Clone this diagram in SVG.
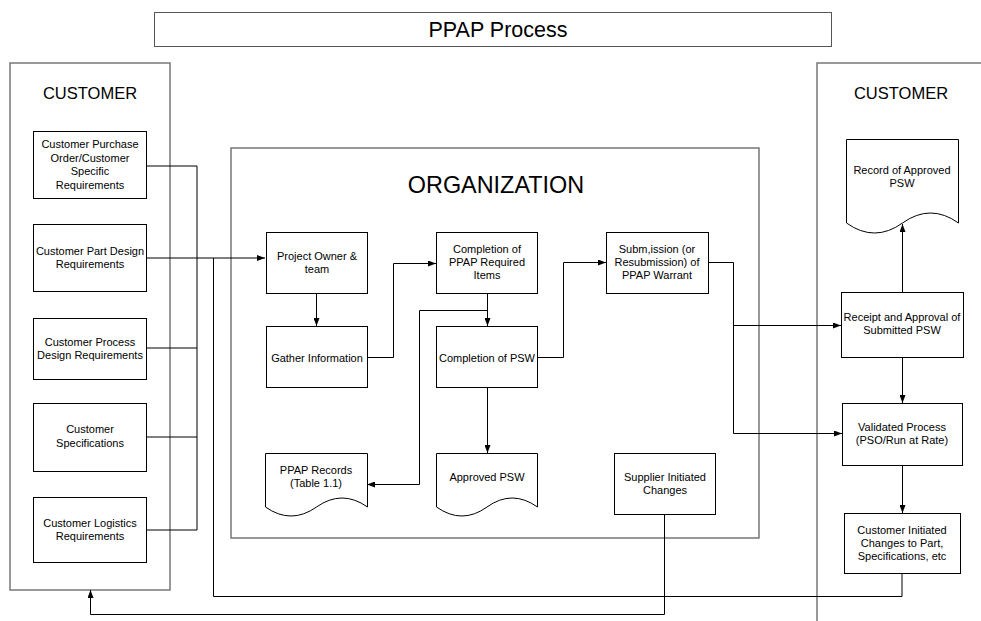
<svg xmlns="http://www.w3.org/2000/svg" width="981" height="621" viewBox="0 0 981 621">
<style>
text{font-family:"Liberation Sans",Arial,sans-serif;fill:#000;text-anchor:middle}
.s{font-size:11px}
.big{font-size:16.5px}
.node{fill:#fff;stroke:#000;stroke-width:1}
.frame{fill:none;stroke:#777;stroke-width:1.5}
.c{fill:none;stroke:#000;stroke-width:1}
</style>
<defs>
<marker id="a" viewBox="0 0 8 6" refX="8" refY="3" markerWidth="8" markerHeight="6" markerUnits="userSpaceOnUse" orient="auto">
<path d="M0,0 L8,3 L0,6 Z" fill="#000"/>
</marker>
</defs>
<rect width="981" height="621" fill="#fff"/>
<g id="title">
<rect x="154.5" y="12.5" width="677" height="34" fill="#fff" stroke="#555" stroke-width="1"/>
<text x="498" y="37" style="font-size:21.5px">PPAP Process</text>
</g>
<g id="customer-left">
<rect class="frame" x="10" y="63" width="160" height="527"/>
<text class="big" x="90" y="99">CUSTOMER</text>
</g>
<g id="customer-right">
<path class="frame" d="M817,621 V63 H990"/>
<text class="big" x="901" y="99">CUSTOMER</text>
</g>
<g id="organization">
<rect class="frame" x="231" y="148" width="528" height="390"/>
<text x="496" y="193" style="font-size:23.4px">ORGANIZATION</text>
</g>
<g id="connectors">
<path class="c" d="M147,166 H197 V530"/>
<path class="c" d="M147,348 H197"/>
<path class="c" d="M147,437 H197"/>
<path class="c" d="M147,530 H197"/>
<path class="c" d="M147,258 H265" marker-end="url(#a)"/>
<path class="c" d="M902,573 V596.5 H213.5 V258"/>
<path class="c" d="M664.5,514 V614.5 H90.5 V590" marker-end="url(#a)"/>
<path class="c" d="M316.5,293 V326" marker-end="url(#a)"/>
<path class="c" d="M367,357.5 H393.5 V263.5 H436" marker-end="url(#a)"/>
<path class="c" d="M487.5,293 V326" marker-end="url(#a)"/>
<path class="c" d="M487.5,310.5 H419.5 V484.5 H367" marker-end="url(#a)"/>
<path class="c" d="M487.5,387 V453" marker-end="url(#a)"/>
<path class="c" d="M537,357.5 H563.5 V262.5 H606" marker-end="url(#a)"/>
<path class="c" d="M708,262.5 H733.5 V433.5 H842" marker-end="url(#a)"/>
<path class="c" d="M733.5,325.5 H841" marker-end="url(#a)"/>
<path class="c" d="M902.5,292 V224" marker-end="url(#a)"/>
<path class="c" d="M902.5,357 V403" marker-end="url(#a)"/>
<path class="c" d="M902.5,465 V513" marker-end="url(#a)"/>
</g>
<g id="n-purchase">
<rect class="node" x="33.5" y="131.5" width="113" height="67"/>
<text class="s" x="90" y="148">Customer Purchase</text>
<text class="s" x="90" y="161.5">Order/Customer</text>
<text class="s" x="90" y="175">Specific</text>
<text class="s" x="90" y="188.5">Requirements</text>
</g>
<g id="n-partdesign">
<rect class="node" x="33.5" y="224.5" width="113" height="67"/>
<text class="s" x="90" y="255">Customer Part Design</text>
<text class="s" x="90" y="267.5">Requirements</text>
</g>
<g id="n-processdesign">
<rect class="node" x="33.5" y="318.5" width="113" height="61"/>
<text class="s" x="90" y="346">Customer Process</text>
<text class="s" x="90" y="358.5">Design Requirements</text>
</g>
<g id="n-specs">
<rect class="node" x="33.5" y="403.5" width="113" height="68"/>
<text class="s" x="90" y="433">Customer</text>
<text class="s" x="90" y="447">Specifications</text>
</g>
<g id="n-logistics">
<rect class="node" x="33.5" y="497.5" width="113" height="65"/>
<text class="s" x="90" y="527">Customer Logistics</text>
<text class="s" x="90" y="539.5">Requirements</text>
</g>
<g id="n-owner">
<rect class="node" x="266.5" y="232.5" width="101" height="61"/>
<text class="s" x="317" y="260">Project Owner &amp;</text>
<text class="s" x="317" y="272.5">team</text>
</g>
<g id="n-gather">
<rect class="node" x="266.5" y="326.5" width="101" height="61"/>
<text class="s" x="317" y="361.5">Gather Information</text>
</g>
<g id="n-ppapitems">
<rect class="node" x="436.5" y="232.5" width="101" height="61"/>
<text class="s" x="487" y="253">Completion of</text>
<text class="s" x="487" y="266">PPAP Required</text>
<text class="s" x="487" y="279">Items</text>
</g>
<g id="n-psw">
<rect class="node" x="436.5" y="326.5" width="101" height="61"/>
<text class="s" x="487" y="361.5">Completion of PSW</text>
</g>
<g id="n-submission">
<rect class="node" x="606.5" y="232.5" width="102" height="61"/>
<text class="s" x="657" y="253">Subm,ission (or</text>
<text class="s" x="657" y="266">Resubmission) of</text>
<text class="s" x="657" y="278.5">PPAP Warrant</text>
</g>
<g id="n-records">
<path class="node" d="M265.5,453.5 H367.5 V507 Q342,489 316.5,507 T265.5,507 Z"/>
<text class="s" x="316" y="474">PPAP Records</text>
<text class="s" x="316" y="487">(Table 1.1)</text>
</g>
<g id="n-approved">
<path class="node" d="M436.5,453.5 H537.5 V507 Q512,489 487,507 T436.5,507 Z"/>
<text class="s" x="487" y="481">Approved PSW</text>
</g>
<g id="n-supplier">
<rect class="node" x="614.5" y="453.5" width="101" height="61"/>
<text class="s" x="665" y="481">Supplier Initiated</text>
<text class="s" x="665" y="493.5">Changes</text>
</g>
<g id="n-record">
<path class="node" d="M846.5,139.5 H958.5 V223 Q930.5,203 902.5,223 T846.5,223 Z"/>
<text class="s" x="902" y="174">Record of Approved</text>
<text class="s" x="902" y="187">PSW</text>
</g>
<g id="n-receipt">
<rect class="node" x="841.5" y="292.5" width="122" height="65"/>
<text class="s" x="902" y="321">Receipt and Approval of</text>
<text class="s" x="902" y="333.5">Submitted PSW</text>
</g>
<g id="n-validated">
<rect class="node" x="842.5" y="403.5" width="120" height="62"/>
<text class="s" x="902" y="431">Validated Process</text>
<text class="s" x="902" y="443.5">(PSO/Run at Rate)</text>
</g>
<g id="n-custinit">
<rect class="node" x="844.5" y="513.5" width="116" height="60"/>
<text class="s" x="902" y="534">Customer Initiated</text>
<text class="s" x="902" y="547">Changes to Part,</text>
<text class="s" x="902" y="560">Specifications, etc</text>
</g>
</svg>
